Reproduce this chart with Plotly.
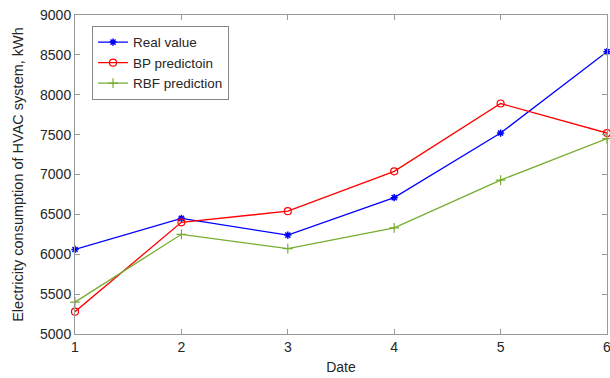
import plotly.graph_objects as go

dates = [1, 2, 3, 4, 5, 6]
real_value = [6060, 6450, 6240, 6710, 7520, 8540]
bp_prediction = [5280, 6400, 6540, 7040, 7890, 7520]
rbf_prediction = [5400, 6250, 6070, 6330, 6930, 7450]

x_ticks = [1, 2, 3, 4, 5, 6]
y_ticks = [5000, 5500, 6000, 6500, 7000, 7500, 8000, 8500, 9000]

fig = go.Figure()
fig.add_trace(go.Scatter(
    x=dates, y=real_value, name="Real value", mode="lines+markers",
    line=dict(color="#0000FF", width=1.3),
    marker=dict(symbol="asterisk-open", size=6, color="#0000FF", line=dict(color="#0000FF", width=1.5)),
    cliponaxis=False,
))
fig.add_trace(go.Scatter(
    x=dates, y=bp_prediction, name="BP predictoin", mode="lines+markers",
    line=dict(color="#FF0000", width=1.3),
    marker=dict(symbol="circle-open", size=7, color="#FF0000", line=dict(color="#FF0000", width=1.2)),
    cliponaxis=False,
))
fig.add_trace(go.Scatter(
    x=dates, y=rbf_prediction, name="RBF prediction", mode="lines+markers",
    line=dict(color="#77AC30", width=1.3),
    marker=dict(symbol="cross-thin-open", size=7, color="#77AC30", line=dict(color="#77AC30", width=1.2)),
    cliponaxis=False,
))

axis_common = dict(
    showline=True, linecolor="#999999", linewidth=1, mirror="ticks",
    ticks="inside", ticklen=5, tickcolor="#999999",
    showgrid=False, zeroline=False, ticklabeloverflow="allow",
    tickfont=dict(family="Liberation Sans, Arial, sans-serif", size=14, color="#262626"),
)

fig.update_layout(
    width=610, height=378,
    margin=dict(l=75, r=3, t=15, b=44, autoexpand=False),
    paper_bgcolor="white", plot_bgcolor="white",
    font=dict(family="Liberation Sans, Arial, sans-serif", size=14, color="#262626"),
    xaxis=dict(range=[1, 6], tickvals=x_ticks, automargin=False,
               title=dict(text="Date", font=dict(size=14), standoff=8), **axis_common),
    yaxis=dict(range=[5000, 9000], tickvals=y_ticks, automargin=False,
               title=dict(text="Electricity consumption of HVAC system, kWh", font=dict(size=14.5), standoff=12),
               **axis_common),
    legend=dict(x=0.032, y=0.966, xanchor="left", yanchor="top",
                bordercolor="#888888", borderwidth=1, bgcolor="white",
                font=dict(size=13.5, color="#262626"), tracegroupgap=0),
    showlegend=True,
)

fig.write_html("out.html", config={"displayModeBar": False},
               post_script="document.body.style.margin='0';document.body.style.overflow='hidden';")
